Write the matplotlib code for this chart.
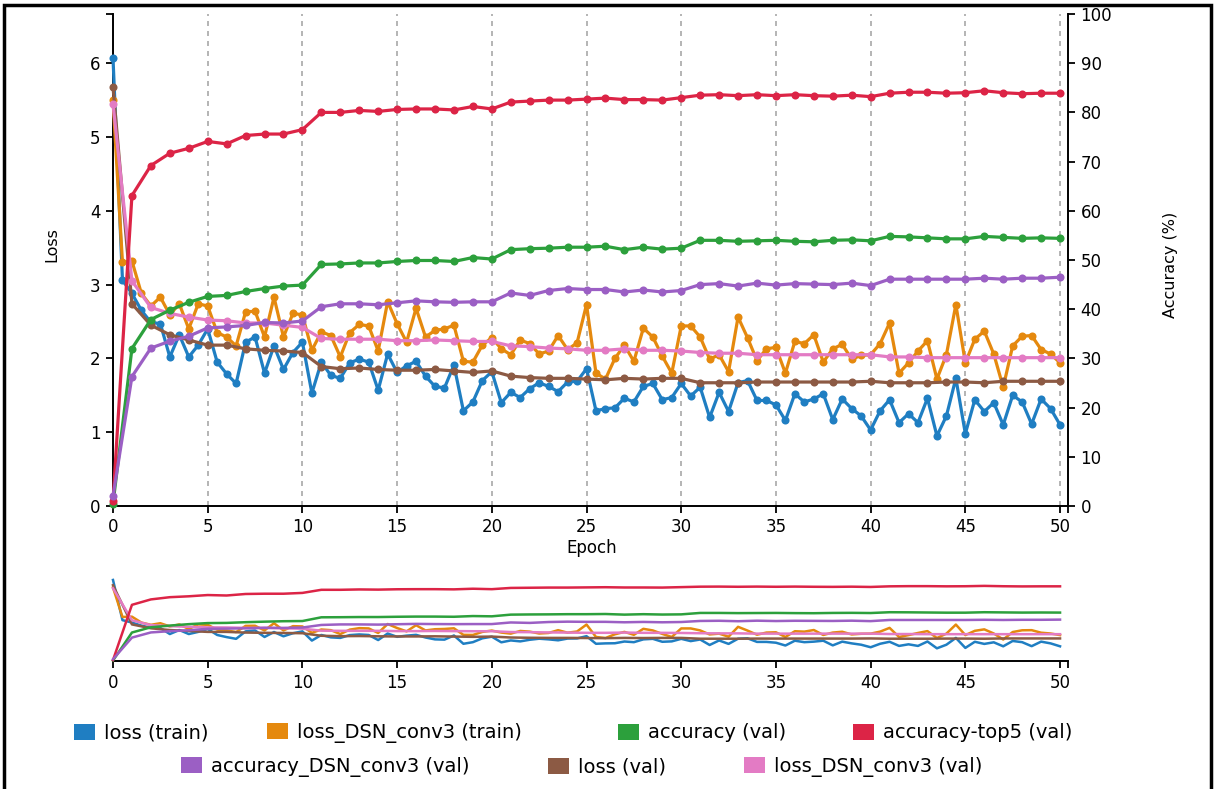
import numpy as np
import matplotlib
matplotlib.use("Agg")
import matplotlib.pyplot as plt
from matplotlib.patches import Patch, Rectangle

# ---------------- data ----------------
train_epochs = [i * 0.5 for i in range(101)]
val_epochs = list(range(51))

loss_train = [6.07, 3.06, 2.88, 2.65, 2.49, 2.47, 2.02, 2.32, 2.02, 2.18,
              2.40, 1.95, 1.79, 1.66, 2.22, 2.29, 1.80, 2.17, 1.85, 2.08,
              2.22, 1.53, 1.95, 1.77, 1.73, 1.94, 1.99, 1.95, 1.57, 2.06,
              1.81, 1.90, 1.96, 1.76, 1.62, 1.60, 1.91, 1.29, 1.41, 1.70,
              1.82, 1.40, 1.54, 1.47, 1.59, 1.67, 1.62, 1.55, 1.68, 1.69,
              1.86, 1.29, 1.32, 1.33, 1.46, 1.41, 1.62, 1.66, 1.44, 1.47,
              1.66, 1.49, 1.61, 1.20, 1.54, 1.28, 1.67, 1.70, 1.43, 1.43,
              1.37, 1.16, 1.52, 1.41, 1.45, 1.52, 1.17, 1.45, 1.32, 1.22,
              1.03, 1.29, 1.44, 1.13, 1.25, 1.13, 1.46, 0.95, 1.22, 1.73,
              0.98, 1.44, 1.28, 1.40, 1.10, 1.50, 1.41, 1.11, 1.45, 1.32,
              1.10]

loss_dsn_train = [5.50, 3.30, 3.32, 2.88, 2.71, 2.83, 2.59, 2.74, 2.40, 2.74,
                  2.71, 2.35, 2.29, 2.17, 2.63, 2.64, 2.29, 2.83, 2.29, 2.61,
                  2.59, 2.11, 2.36, 2.31, 2.02, 2.35, 2.46, 2.44, 2.10, 2.77,
                  2.47, 2.22, 2.68, 2.29, 2.38, 2.40, 2.45, 1.96, 1.95, 2.18,
                  2.28, 2.13, 2.05, 2.25, 2.20, 2.06, 2.10, 2.31, 2.12, 2.21,
                  2.73, 1.80, 1.72, 2.00, 2.18, 1.96, 2.41, 2.29, 2.03, 1.80,
                  2.44, 2.44, 2.29, 1.99, 2.05, 1.82, 2.56, 2.28, 1.97, 2.13,
                  2.15, 1.80, 2.23, 2.20, 2.32, 1.95, 2.13, 2.19, 1.99, 2.04,
                  2.05, 2.20, 2.48, 1.80, 1.94, 2.10, 2.24, 1.72, 2.05, 2.73,
                  1.94, 2.26, 2.37, 2.06, 1.61, 2.17, 2.30, 2.31, 2.12, 2.06,
                  1.94]

accuracy_val = [0.5, 32.0, 37.9, 39.8, 41.4, 42.6, 42.8, 43.6, 44.2, 44.7,
                44.9, 49.1, 49.2, 49.4, 49.4, 49.7, 49.9, 49.9, 49.7, 50.5,
                50.2, 52.1, 52.3, 52.4, 52.6, 52.6, 52.8, 52.1, 52.6, 52.2,
                52.4, 54.0, 54.0, 53.8, 53.9, 54.0, 53.8, 53.7, 54.0, 54.1,
                53.9, 54.8, 54.7, 54.5, 54.3, 54.3, 54.8, 54.6, 54.4, 54.5,
                54.4]

top5_val = [1.0, 63.1, 69.2, 71.7, 72.7, 74.1, 73.6, 75.3, 75.6, 75.6,
            76.5, 80.0, 80.0, 80.4, 80.2, 80.6, 80.7, 80.7, 80.5, 81.2,
            80.7, 82.1, 82.3, 82.5, 82.5, 82.7, 82.9, 82.6, 82.6, 82.5,
            83.0, 83.5, 83.6, 83.4, 83.6, 83.4, 83.6, 83.4, 83.3, 83.5,
            83.2, 83.9, 84.1, 84.1, 83.9, 84.0, 84.4, 84.0, 83.8, 83.9,
            83.9]

acc_dsn_val = [2.0, 26.3, 32.1, 33.5, 34.5, 36.2, 36.4, 36.7, 37.3, 37.2,
               37.6, 40.5, 41.1, 41.1, 40.9, 41.3, 41.7, 41.5, 41.4, 41.5,
               41.5, 43.3, 42.8, 43.8, 44.2, 44.0, 44.0, 43.5, 43.9, 43.5,
               43.8, 45.0, 45.2, 44.7, 45.3, 44.9, 45.2, 45.1, 45.0, 45.3,
               44.8, 46.1, 46.1, 46.1, 46.1, 46.1, 46.3, 46.1, 46.3, 46.3,
               46.5]

loss_val = [5.68, 2.74, 2.45, 2.32, 2.25, 2.18, 2.18, 2.13, 2.11, 2.10,
            2.08, 1.89, 1.86, 1.87, 1.85, 1.84, 1.84, 1.85, 1.83, 1.81,
            1.83, 1.76, 1.74, 1.73, 1.73, 1.72, 1.71, 1.73, 1.72, 1.73,
            1.73, 1.67, 1.67, 1.67, 1.68, 1.68, 1.68, 1.68, 1.68, 1.68,
            1.69, 1.67, 1.67, 1.67, 1.68, 1.68, 1.67, 1.69, 1.69, 1.69,
            1.69]

loss_dsn_val = [5.45, 3.05, 2.69, 2.61, 2.56, 2.52, 2.51, 2.48, 2.48, 2.45,
                2.42, 2.27, 2.26, 2.26, 2.26, 2.24, 2.24, 2.25, 2.24, 2.23,
                2.23, 2.17, 2.16, 2.14, 2.13, 2.11, 2.11, 2.13, 2.11, 2.11,
                2.10, 2.08, 2.07, 2.07, 2.05, 2.05, 2.05, 2.05, 2.05, 2.05,
                2.05, 2.02, 2.02, 2.01, 2.01, 2.01, 2.01, 2.01, 2.01, 2.01,
                2.01]

labels = ["loss (train)", "loss_DSN_conv3 (train)", "accuracy (val)",
          "accuracy-top5 (val)", "accuracy_DSN_conv3 (val)", "loss (val)",
          "loss_DSN_conv3 (val)"]
x_ticks = list(range(0, 51, 5))
loss_ticks = list(range(0, 7))
acc_ticks = list(range(0, 101, 10))

colors = ["#1f7ec2", "#e5890e", "#2ca03c", "#dc2446", "#9b5fc4", "#8c5a44", "#e37bc4"]

# ---------------- figure ----------------
W, H = 1215, 789
plt.rcParams['font.family'] = ['DejaVu Sans']
fig = plt.figure(figsize=(W / 100, H / 100), dpi=100)

XMAX = 50.42
LMAX = 6.667


def fa(x0, y0, x1, y1):
    return [x0 / W, 1 - y1 / H, (x1 - x0) / W, (y1 - y0) / H]


ax = fig.add_axes(fa(113, 14, 1068, 506))
ax2 = ax.twinx()

series = [
    (ax, train_epochs, loss_train),
    (ax, train_epochs, loss_dsn_train),
    (ax2, val_epochs, accuracy_val),
    (ax2, val_epochs, top5_val),
    (ax2, val_epochs, acc_dsn_val),
    (ax, val_epochs, loss_val),
    (ax, val_epochs, loss_dsn_val),
]

for i, (a, xs, ys) in enumerate(series):
    a.plot(xs, ys, color=colors[i], lw=2.3, marker='o', ms=5.8,
           markeredgewidth=0, zorder=3 + i, clip_on=False)

for a in (ax, ax2):
    a.set_xlim(0, XMAX)
ax.set_ylim(0, LMAX)
ax2.set_ylim(0, 100)

ax.set_xticks(x_ticks)
ax.set_xticks([XMAX], minor=True)
ax.set_yticks(loss_ticks)
ax.set_yticks([LMAX], minor=True)
ax2.set_yticks(acc_ticks)

ax.grid(axis='x', color='#a8a8a8', linestyle=(0, (3, 3)), lw=1.2)
ax.set_axisbelow(True)

for s in ('top', 'right'):
    ax.spines[s].set_visible(False)
for s in ('top', 'left', 'bottom'):
    ax2.spines[s].set_visible(False)
for sp in list(ax.spines.values()) + list(ax2.spines.values()):
    sp.set_linewidth(1.4)

ax.tick_params(which='both', direction='out', length=5, width=1.3, labelsize=12, pad=4)
ax2.tick_params(which='both', direction='out', length=5, width=1.3, labelsize=12, pad=4)

fig.text(592 / W, 1 - 548 / H, "Epoch", ha='center', va='center', fontsize=12)
fig.text(52 / W, 1 - 245 / H, "Loss", rotation=90, ha='center', va='center', fontsize=11.5)
fig.text(1170 / W, 1 - 265 / H, "Accuracy (%)", rotation=90, ha='center', va='center', fontsize=11.5)

# ---------------- sub chart ----------------
axs = fig.add_axes(fa(113, 572, 1068, 661))
axs2 = axs.twinx()
sub_series = [
    (axs, train_epochs, loss_train),
    (axs, train_epochs, loss_dsn_train),
    (axs2, val_epochs, accuracy_val),
    (axs2, val_epochs, top5_val),
    (axs2, val_epochs, acc_dsn_val),
    (axs, val_epochs, loss_val),
    (axs, val_epochs, loss_dsn_val),
]
for i, (a, xs, ys) in enumerate(sub_series):
    a.plot(xs, ys, color=colors[i], lw=1.8, zorder=3 + i, clip_on=False)
for a in (axs, axs2):
    a.set_xlim(0, XMAX)
    for s in ('top', 'left', 'right'):
        a.spines[s].set_visible(False)
    a.set_yticks([])
axs.set_ylim(0, LMAX)
axs2.set_ylim(0, 100)
axs2.spines['bottom'].set_visible(False)
axs.spines['bottom'].set_linewidth(1.4)
axs.set_xticks(x_ticks)
axs.set_xticks([XMAX], minor=True)
axs.tick_params(which='both', direction='out', length=5, width=1.3, labelsize=12, pad=4)

# ---------------- legend (one entry per legend, placed like the reference) ----------------
legend_pos = [(74, 733), (267, 733), (618, 733), (853, 733),
              (181, 767), (548, 767), (744, 767)]
for i, (lx, ly) in enumerate(legend_pos):
    fig.legend([Patch(facecolor=colors[i], edgecolor='none')], [labels[i]],
               loc='center left', bbox_to_anchor=(lx / W, 1 - ly / H),
               frameon=False, fontsize=14, handlelength=1.1, handleheight=0.9,
               handletextpad=0.45, borderaxespad=0, borderpad=0)

# outer frame
fig.patches.append(Rectangle((4 / W, -0.05), (1211 - 4) / W, 1.05 - 5 / H,
                             transform=fig.transFigure, fill=False,
                             edgecolor='black', lw=2.5))

fig.savefig("out.png", dpi=100)
